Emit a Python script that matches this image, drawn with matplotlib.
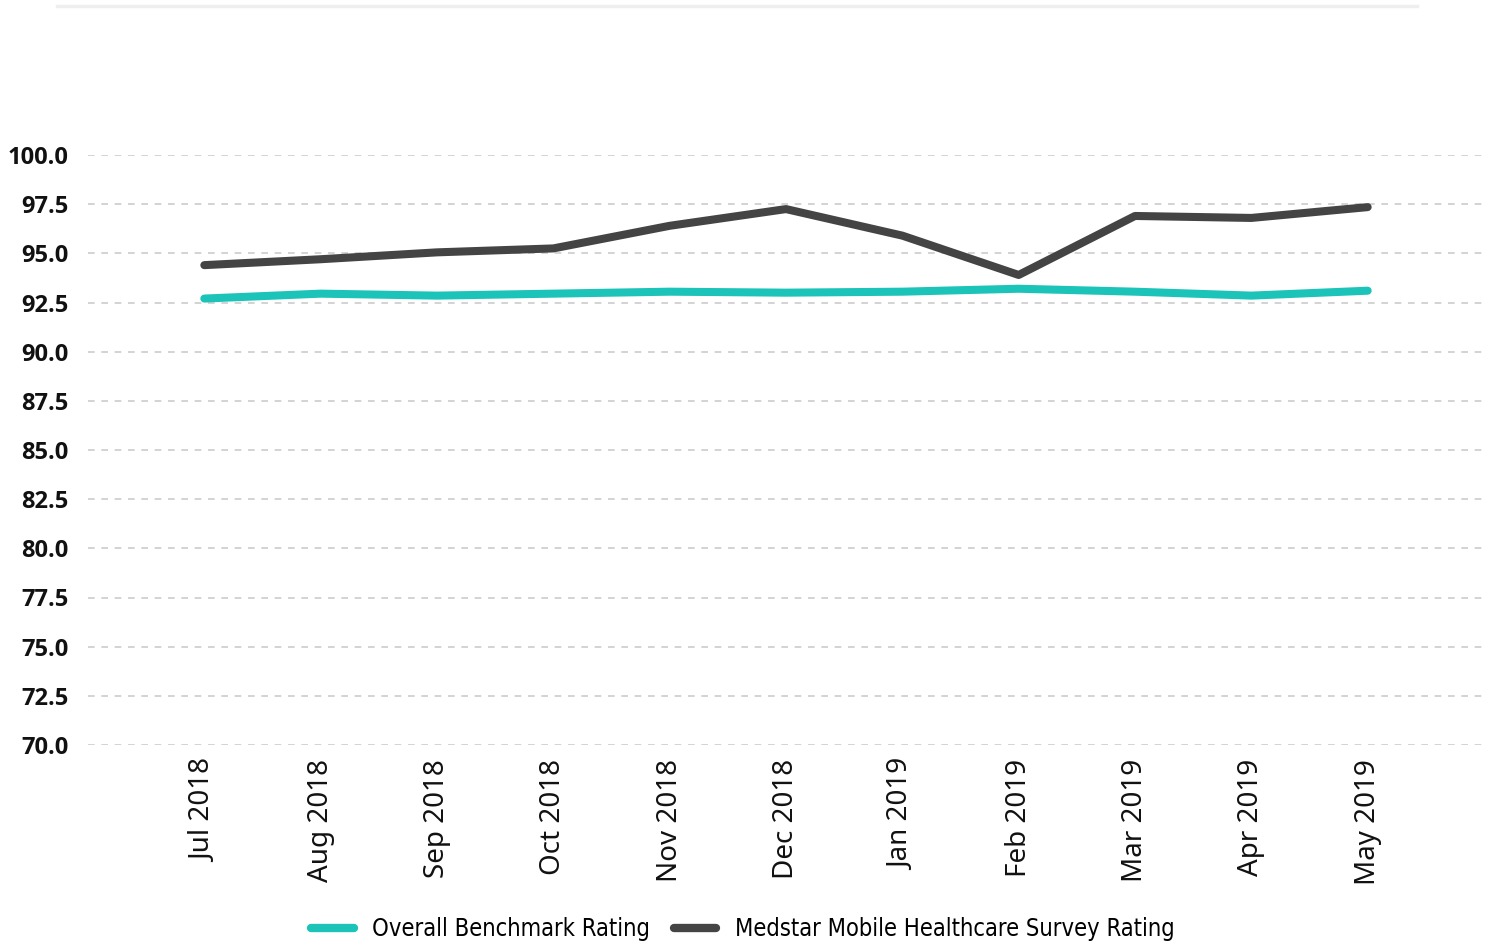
import matplotlib
matplotlib.use("Agg")
import matplotlib.pyplot as plt
from matplotlib.lines import Line2D

# -----------------------------------------------------------------------------
# Data
# -----------------------------------------------------------------------------
months = ["Jul 2018", "Aug 2018", "Sep 2018", "Oct 2018", "Nov 2018", "Dec 2018",
          "Jan 2019", "Feb 2019", "Mar 2019", "Apr 2019", "May 2019"]
benchmark = [92.7, 92.95, 92.85, 92.95, 93.05, 93.0, 93.05, 93.2, 93.05, 92.85, 93.1]
medstar = [94.4, 94.7, 95.05, 95.25, 96.4, 97.25, 95.9, 93.9, 96.9, 96.8, 97.35]
yticks = [70.0, 72.5, 75.0, 77.5, 80.0, 82.5, 85.0, 87.5, 90.0, 92.5, 95.0, 97.5, 100.0]

TEAL = "#1bc3b9"
DARK = "#444444"

plt.rcParams["font.family"] = ["Noto Sans", "DejaVu Sans"]

fig = plt.figure(figsize=(14.91, 9.49), dpi=100)
W, H = 1491, 949
ax = fig.add_axes([88 / W, 1 - 745 / H, (1484 - 88) / W, (745 - 155) / H])

x = list(range(len(months)))
ax.plot(x, benchmark, color=TEAL, lw=5.8, solid_capstyle="round", solid_joinstyle="round", zorder=3)
ax.plot(x, medstar, color=DARK, lw=5.8, solid_capstyle="round", solid_joinstyle="round", zorder=3)

ax.set_xlim(-1, 11)
ax.set_ylim(70, 100)
ax.set_yticks(yticks)
ax.set_yticklabels([f"{v:.1f}" for v in yticks], fontsize=17, fontweight="bold",
                   family=["Open Sans", "DejaVu Sans"], color="#111111")
ax.set_xticks(x)
ax.set_xticklabels(months, rotation=90, fontsize=20, color="#111111")
ax.tick_params(length=0)
ax.tick_params(axis="y", pad=14)
ax.tick_params(axis="x", pad=10)
ax.grid(axis="y", color="#cccccc", linestyle=(0, (4, 4)), linewidth=1.2)
ax.set_axisbelow(True)
for s in ax.spines.values():
    s.set_visible(False)

# light rule at top of figure
fig.add_artist(Line2D([57 / W, 1417 / W], [1 - 6 / H, 1 - 6 / H], color="#eeeeee", lw=2.5))

handles = [Line2D([0], [0], color=TEAL, lw=6, solid_capstyle="round"),
           Line2D([0], [0], color=DARK, lw=6, solid_capstyle="round")]
fig.legend(handles, ["Overall Benchmark Rating", "Medstar Mobile Healthcare Survey Rating"],
           loc="center", bbox_to_anchor=(743 / W, 1 - 929 / H), ncol=2, frameon=False,
           handlelength=1.8, handletextpad=0.8, columnspacing=1.0,
           prop={"family": ["DejaVu Sans"], "stretch": "condensed", "size": 17})

fig.savefig("out.png", dpi=100)
